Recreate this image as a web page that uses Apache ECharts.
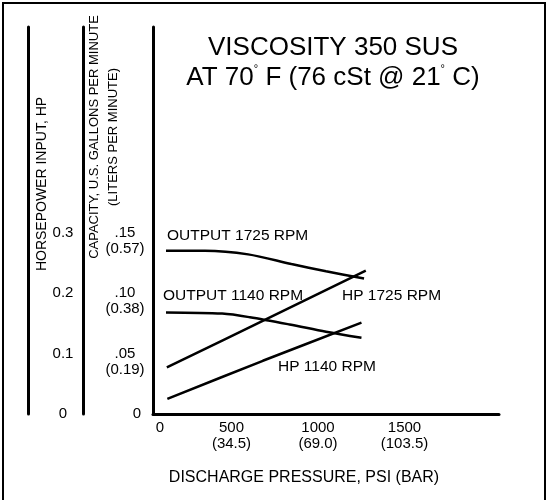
<!DOCTYPE html>
<html>
<head>
<meta charset="utf-8">
<script src="https://cdn.jsdelivr.net/npm/echarts@6/dist/echarts.min.js"></script>
<style>
    html, body {margin: 0; padding: 0; background: #fff;}
    #main {width: 549px; height: 500px;}
</style>
</head>
<body>
<div id="main"></div>
<script>
// 横轴刻度：PSI 与 BAR
var psiTicks = [0, 500, 1000, 1500];
var barTicks = ['', '(34.5)', '(69.0)', '(103.5)'];
// 马力刻度
var hpTicks = [0, 0.1, 0.2, 0.3];
// 流量刻度：GPM 与 LPM
var gpmTicks = [0, 0.05, 0.10, 0.15];
var gpmTickText = ['0', '.05', '.10', '.15'];
var lpmTickText = ['', '(0.19)', '(0.38)', '(0.57)'];

// 曲线数据
var out1725Psi = [75, 300, 550, 800, 1000, 1220];
var out1725Gpm = [0.135, 0.135, 0.132, 0.124, 0.118, 0.112];
var out1140Psi = [75, 400, 560, 790, 1000, 1205];
var out1140Gpm = [0.084, 0.083, 0.080, 0.074, 0.068, 0.063];
var hp1725Psi = [80, 655, 1230];
var hp1725Hp = [0.077, 0.157, 0.237];
var hp1140Psi = [83, 635, 1205];
var hp1140Hp = [0.025, 0.088, 0.151];

var FONT = '"Liberation Sans", Arial, sans-serif';

function pairs(xs, ys) {
    return xs.map(function (x, i) {
        return [x, ys[i]];
    });
}

function curve(name, xs, ys, axis) {
    return {
        name: name,
        type: 'line',
        yAxisIndex: axis,
        data: pairs(xs, ys),
        smooth: 0.3,
        symbol: 'none',
        lineStyle: {color: '#000', width: 2.5}
    };
}

function noteText(text, x, y) {
    return {
        type: 'text',
        x: x,
        y: y,
        style: {
            text: text,
            font: '15.5px ' + FONT,
            fill: '#000',
            textAlign: 'left',
            textVerticalAlign: 'middle'
        }
    };
}

function sideName(text, x, y, size) {
    return {
        type: 'text',
        x: x,
        y: y,
        rotation: Math.PI / 2,
        style: {
            text: text,
            font: size + 'px ' + FONT,
            fill: '#000',
            textAlign: 'center',
            textVerticalAlign: 'middle'
        }
    };
}

// 轴线不要贴到零点
var blackLine = {show: true, onZero: false, lineStyle: {color: '#000', width: 3}};

var option = {
    backgroundColor: '#fff',
    animation: false,
    title: {
        left: 328,
        top: 28,
        textAlign: 'center',
        text: 'VISCOSITY 350 SUS\nAT 70{d|°} F (76 cSt @ 21{d|°} C)',
        textStyle: {
            fontFamily: FONT,
            fontSize: 26,
            fontWeight: 'normal',
            color: '#000',
            lineHeight: 30,
            rich: {
                d: {fontFamily: FONT, fontSize: 11, color: '#000', verticalAlign: 'top', lineHeight: 30}
            }
        }
    },
    grid: {left: 153, right: 50, top: 27, bottom: 86},
    xAxis: {
        type: 'value',
        min: 0,
        max: 2000,
        name: 'DISCHARGE PRESSURE, PSI (BAR)',
        nameLocation: 'middle',
        nameGap: 56,
        nameTextStyle: {fontFamily: FONT, fontSize: 16, color: '#000', padding: [0, 44, 0, 0]},
        axisLine: blackLine,
        axisTick: {show: false},
        splitLine: {show: false},
        axisLabel: {
            customValues: psiTicks,
            margin: 6,
            formatter: function (v) {
                var i = psiTicks.indexOf(v);
                if (i === 0) {
                    return '{z|' + v + '}';
                }
                return '{t|' + v + '}\n{t|' + barTicks[i] + '}';
            },
            rich: {
                z: {fontFamily: FONT, fontSize: 15, color: '#000', lineHeight: 16, padding: [0, 0, 0, 14]},
                t: {fontFamily: FONT, fontSize: 15, color: '#000', lineHeight: 16, padding: [0, 16, 0, 0]}
            }
        }
    },
    yAxis: [{
        // 马力轴
        type: 'value',
        position: 'left',
        offset: 125,
        min: 0,
        max: 0.64,
        axisLine: blackLine,
        axisTick: {show: false},
        splitLine: {show: false},
        axisLabel: {
            customValues: hpTicks,
            inside: true,
            align: 'center',
            margin: 35,
            fontFamily: FONT,
            fontSize: 15,
            color: '#000'
        }
    }, {
        // 流量轴
        type: 'value',
        position: 'left',
        offset: 70,
        min: 0,
        max: 0.32,
        axisLine: blackLine,
        axisTick: {show: false},
        splitLine: {show: false},
        axisLabel: {
            customValues: gpmTicks,
            inside: true,
            align: 'center',
            margin: 42,
            padding: [16, 0, 0, 0],
            formatter: function (v) {
                var i = gpmTicks.indexOf(v);
                if (i === 0) {
                    return '{z|0}\n{z| }';
                }
                return '{a|' + gpmTickText[i] + '}\n{a|' + lpmTickText[i] + '}';
            },
            rich: {
                z: {fontFamily: FONT, fontSize: 15, color: '#000', lineHeight: 16, padding: [0, 0, 0, 24]},
                a: {fontFamily: FONT, fontSize: 15, color: '#000', lineHeight: 16}
            }
        }
    }, {
        // 主纵轴线
        type: 'value',
        position: 'left',
        offset: 0,
        min: 0,
        max: 0.64,
        axisLine: blackLine,
        axisTick: {show: false},
        axisLabel: {show: false},
        splitLine: {show: false}
    }],
    graphic: [
        {
            type: 'polyline',
            shape: {points: [[3, 500], [3, 3], [545, 3], [545, 500]]},
            style: {stroke: '#000', lineWidth: 2, fill: null}
        },
        sideName('HORSEPOWER INPUT, HP', 42, 184, 14),
        sideName('CAPACITY, U.S. GALLONS PER MINUTE', 94, 137, 13),
        sideName('(LITERS PER MINUTE)', 113, 137, 13),
        noteText('OUTPUT 1725 RPM', 167, 236),
        noteText('OUTPUT 1140 RPM', 163, 296),
        noteText('HP 1725 RPM', 342, 296),
        noteText('HP 1140 RPM', 278, 367)
    ],
    series: [
        curve('OUTPUT 1725 RPM', out1725Psi, out1725Gpm, 1),
        curve('OUTPUT 1140 RPM', out1140Psi, out1140Gpm, 1),
        curve('HP 1725 RPM', hp1725Psi, hp1725Hp, 0),
        curve('HP 1140 RPM', hp1140Psi, hp1140Hp, 0)
    ]
};

var myChart = echarts.init(document.getElementById('main'));
myChart.setOption(option);
</script>
</body>
</html>
